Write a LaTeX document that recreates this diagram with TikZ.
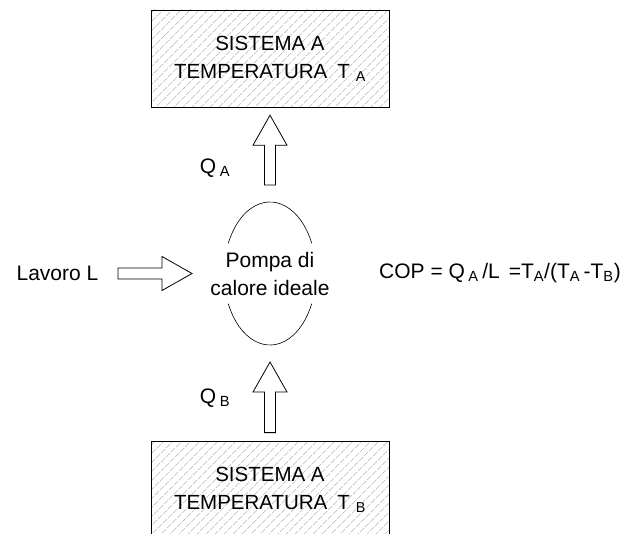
\documentclass[tikz,border=0pt]{standalone}
\usepackage{fontspec}
\setmainfont{Liberation Sans}
\usetikzlibrary{shapes.geometric,patterns.meta,calc}
% hollow block arrow from #1 to #2
\newcommand\blockarrow[2]{%
  \draw[freccia] let \p1=($(#2)-(#1)$), \n1={atan2(\y1,\x1)}, \n2={veclen(\x1,\y1)} in
    [shift={(#1)},rotate=\n1] (0,-5.5) -- ({\n2-30},-5.5) -- ({\n2-30},-17) -- (\n2,0)
    -- ({\n2-30},17) -- ({\n2-30},5.5) -- (0,5.5) -- cycle;}
\begin{document}
\begin{tikzpicture}[x=1pt,y=1pt,
    every node/.style={font=\fontsize{21}{28}\selectfont},
    sistema/.style={draw,line width=0.8pt,minimum width=238pt,align=center,
      font=\fontsize{20.5}{28}\selectfont,
      pattern={Lines[angle=45,distance=6.5pt,line width=0.45pt]},pattern color=gray!70},
    freccia/.style={line width=0.8pt,line join=miter}]
\useasboundingbox (0,0) rectangle (642,533);
\node[sistema,minimum height=97pt] (boxA) at (270,474.5) {SISTEMA A\\TEMPERATURA\hspace{10pt}T\hspace{6pt}\textsubscript{A}};
\node[sistema,minimum height=98pt] (boxB) at (270,43) {SISTEMA A\\TEMPERATURA\hspace{10pt}T\hspace{6pt}\textsubscript{B}};
\node[align=center,inner sep=0pt] (pump) at (270,259.5) {Pompa di\\calore ideale};
\draw[line width=0.6pt] ([shift={(25:46 and 71.5)}]pump.center) arc[start angle=25,end angle=155,x radius=46,y radius=71.5];
\draw[line width=0.6pt] ([shift={(205:46 and 71.5)}]pump.center) arc[start angle=205,end angle=335,x radius=46,y radius=71.5];
\node (lavoro) at (57.5,260) {Lavoro L};
\node (qa) at (215,365) {Q\,\textsubscript{A}};
\node (qb) at (215,135) {Q\,\textsubscript{B}};
\node (cop) at (500,260) {COP = Q\,\textsubscript{A}\,/L\hspace{9pt}=T\textsubscript{A}/(T\textsubscript{A}\,-T\textsubscript{B})};
% arrows
\coordinate (a1) at ([yshift=88.5pt]pump.center);
\coordinate (a2) at ([yshift=-8pt]boxA.south);
\coordinate (b1) at ([yshift=8pt]boxB.north);
\coordinate (b2) at ([yshift=-88.5pt]pump.center);
\coordinate (l1) at ([xshift=-152pt]pump.center);
\coordinate (l2) at ([xshift=-78pt]pump.center);
\blockarrow{a1}{a2}
\blockarrow{b1}{b2}
\blockarrow{l1}{l2}
\end{tikzpicture}
\end{document}
